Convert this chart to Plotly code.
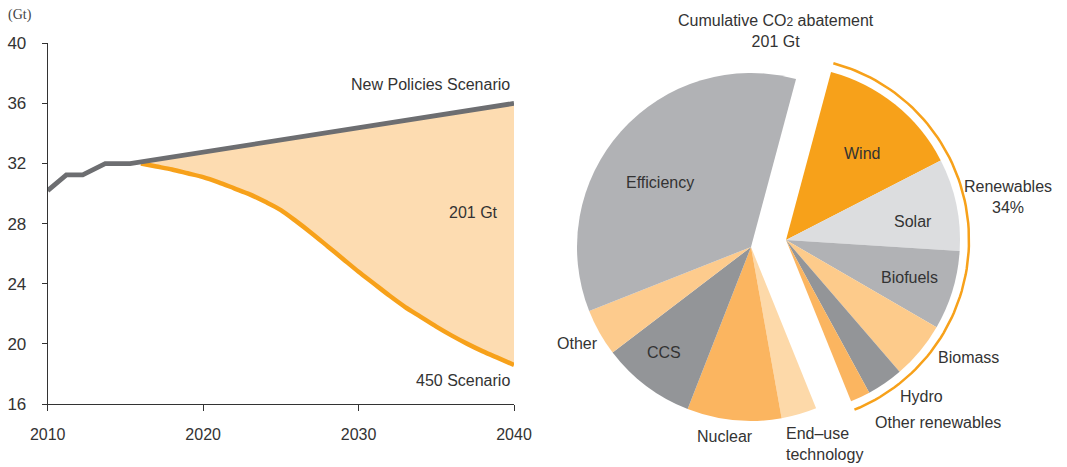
import math
import plotly.graph_objects as go

W, H = 1067, 467

# ---------------- data ----------------
nps_years = [2010, 2011.2, 2012.25, 2013.7, 2015.3, 2020, 2025, 2030, 2035, 2040]
nps_values = [30.2, 31.25, 31.25, 32.0, 32.0, 32.75, 33.55, 34.4, 35.2, 36.0]

s450_years = list(range(2016, 2041))
s450_values = [32.0, 31.8, 31.6, 31.35, 31.1, 30.75, 30.35, 29.95, 29.45, 28.9,
               28.15, 27.35, 26.5, 25.65, 24.8, 24.0, 23.2, 22.45, 21.8, 21.15,
               20.55, 20.0, 19.5, 19.05, 18.6]

y_ticks = [16, 20, 24, 28, 32, 36, 40]
x_ticks = [2010, 2020, 2030, 2040]

pie_labels = ["Wind", "Solar", "Biofuels", "Biomass", "Hydro", "Other renewables",
              "End-use technology", "Nuclear", "CCS", "Other", "Efficiency"]
pie_values = [26.7, 17.2, 14.8, 10.7, 6.8, 3.7, 6.6, 17.6, 17.5, 8.8, 70.7]
is_renewable = [True, True, True, True, True, True, False, False, False, False, False]
pie_colors = ["#F7A11A", "#DCDDDF", "#B1B2B5", "#FDCB8B", "#939598", "#FBB560",
              "#FDD9A9", "#FBB560", "#939598", "#FDCB8D", "#B1B2B5"]

# ---------------- helpers ----------------
def px(x, y):
    return x / W, 1 - y / H

TXT = "#333333"
FONT = "Liberation Sans, Arial, sans-serif"

fig = go.Figure()

# Fill between scenarios
fill_x = s450_years + nps_years[::-1][:5]
fill_y = s450_values + nps_values[::-1][:5]
fig.add_trace(go.Scatter(x=fill_x, y=fill_y, fill="toself", fillcolor="#FDDCB1",
                         line=dict(width=0), mode="lines", hoverinfo="skip",
                         xaxis="x", yaxis="y"))
fig.add_trace(go.Scatter(x=s450_years, y=s450_values, mode="lines",
                         line=dict(color="#F7A11A", width=4.5, shape="spline", smoothing=0.8),
                         xaxis="x", yaxis="y"))
fig.add_trace(go.Scatter(x=nps_years, y=nps_values, mode="lines",
                         line=dict(color="#6D6E71", width=4.8),
                         xaxis="x", yaxis="y"))

# ---------------- pie (two groups, translated apart) ----------------
R_LEFT, C_LEFT = 174, (751, 247)
R_RIGHT, C_RIGHT = 174, (786, 240)
ROT = 15

def dom(center, r):
    cx, cy = center
    return dict(x=[(cx - r) / W, (cx + r) / W],
                y=[1 - (cy + r) / H, 1 - (cy - r) / H])

for group_renew, center, r in [(False, C_LEFT, R_LEFT), (True, C_RIGHT, R_RIGHT)]:
    cols = [c if ren == group_renew else "rgba(0,0,0,0)"
            for c, ren in zip(pie_colors, is_renewable)]
    fig.add_trace(go.Pie(labels=pie_labels, values=pie_values, sort=False,
                         direction="clockwise", rotation=ROT,
                         marker=dict(colors=cols, line=dict(width=0)),
                         textinfo="none", hoverinfo="skip", domain=dom(center, r),
                         showlegend=False))

# Orange arc around renewables (computed from data)
total = sum(pie_values)
ren_total = sum(v for v, ren in zip(pie_values, is_renewable) if ren)
a0 = ROT
a1 = ROT + 360 * ren_total / total
arc_r = 183
n = 80
arc_x, arc_y = [], []
for i in range(n + 1):
    a = math.radians(a0 + (a1 - a0) * i / n)
    arc_x.append(C_RIGHT[0] + arc_r * math.sin(a))
    arc_y.append(C_RIGHT[1] - arc_r * math.cos(a))
fig.add_trace(go.Scatter(x=arc_x, y=arc_y, mode="lines",
                         line=dict(color="#F7A11A", width=2.5),
                         xaxis="x2", yaxis="y2", hoverinfo="skip"))

# ---------------- annotations ----------------
ann = []
def add(text, x, y, xanchor="center", size=16, align="center", font=FONT, color=TXT):
    ax, ay = px(x, y)
    ann.append(dict(text=text, x=ax, y=ay, xref="paper", yref="paper",
                    xanchor=xanchor, yanchor="middle", showarrow=False, align=align,
                    font=dict(family=font, size=size, color=color)))

add("(Gt)", 20, 15, size=14, font="Liberation Serif, serif", color="#444444")
add("New Policies Scenario", 512, 84, xanchor="right")
add("201 Gt", 473, 212)
add("450 Scenario", 512, 380, xanchor="right")

add("Cumulative CO<span style='font-size:12px'>2</span> abatement<br>201 Gt", 776, 31)
add("Efficiency", 660, 182)
add("Wind", 862, 153)
add("Solar", 913, 221)
add("Biofuels", 909, 277)
add("Renewables<br>34%", 1008, 197)
add("Other", 577, 343)
add("CCS", 664, 352)
add("Nuclear", 725, 436)
add("End\u2013use<br>technology", 784, 444, xanchor="left", align="left")
add("Biomass", 968, 357)
add("Hydro", 921, 396)
add("Other renewables", 938, 422)

xd0, _ = px(47.7, 0)
xd1, _ = px(514, 0)
_, yd0 = px(0, 404)
_, yd1 = px(0, 43.3)

fig.update_layout(
    width=W, height=H, margin=dict(l=0, r=0, t=0, b=0, autoexpand=False),
    paper_bgcolor="white", plot_bgcolor="rgba(0,0,0,0)", showlegend=False,
    font=dict(family=FONT, color=TXT),
    xaxis=dict(domain=[xd0, xd1], range=[2010, 2040], tickvals=x_ticks,
               showgrid=False, zeroline=False, showline=True, linecolor="#333333",
               linewidth=1, ticks="outside", ticklen=6, tickcolor="#333333",
               tickfont=dict(size=16, color=TXT), ticklabelstandoff=10,
               automargin=False),
    yaxis=dict(domain=[yd0, yd1], range=[16, 40], tickvals=y_ticks,
               showgrid=False, zeroline=False, showline=True, linecolor="#333333",
               linewidth=1, ticks="outside", ticklen=5, tickcolor="#333333",
               tickfont=dict(size=17, color=TXT), ticklabelstandoff=12,
               automargin=False),
    xaxis2=dict(domain=[0, 1], range=[0, W], visible=False, anchor="y2", automargin=False),
    yaxis2=dict(domain=[0, 1], range=[H, 0], visible=False, anchor="x2", automargin=False),
    annotations=ann,
)

fig.write_html("out.html", config={"displayModeBar": False},
               post_script="document.body.style.margin='0px';document.body.style.overflow='hidden';")
